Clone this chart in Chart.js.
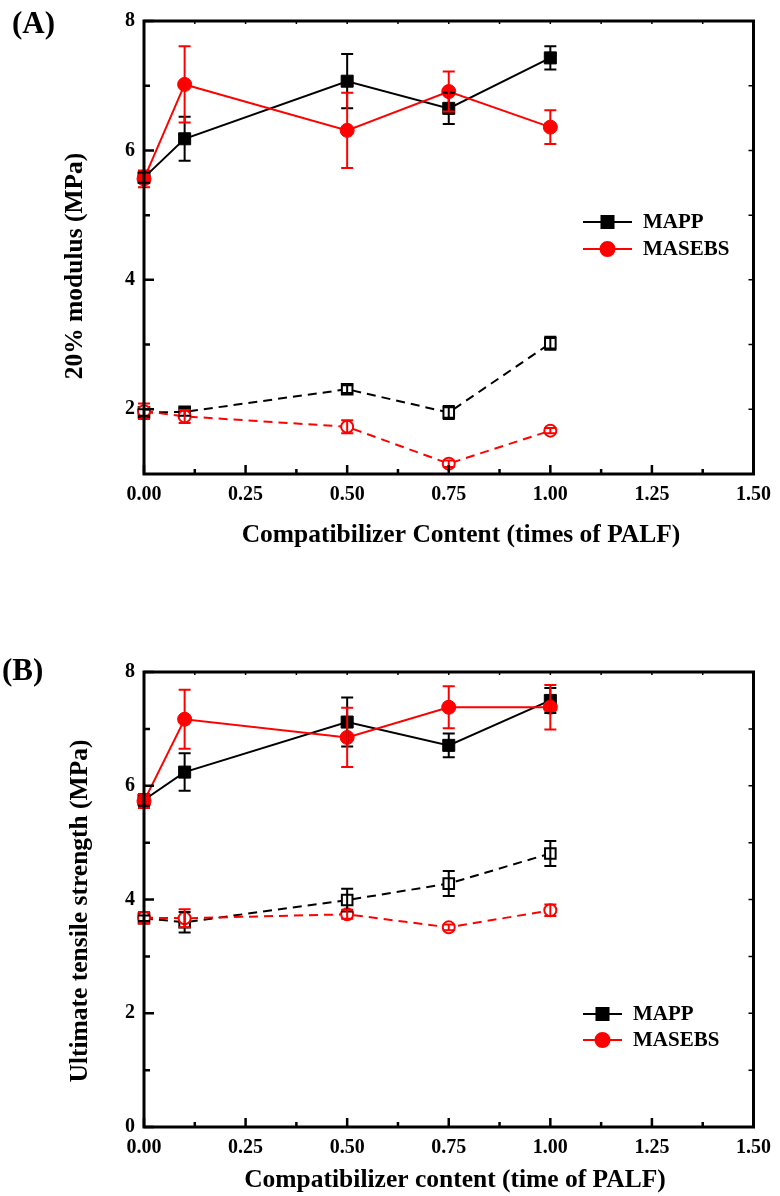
<!DOCTYPE html>
<html>
<head>
<meta charset="utf-8">
<script src="https://cdn.jsdelivr.net/npm/chart.js@4.4.1/dist/chart.umd.min.js"></script>
<style>
  html, body { margin: 0; padding: 0; background: #fff; }
  #wrap { position: relative; width: 780px; height: 1196px; }
  canvas { position: absolute; left: 0; }
  #cA { top: 0; width: 780px; height: 600px; }
  #cB { top: 600px; width: 780px; height: 596px; }
</style>
</head>
<body>
<div id="wrap">
  <canvas id="cA" width="780" height="600"></canvas>
  <canvas id="cB" width="780" height="596"></canvas>
</div>
<script>
// compatibilizer content (times of PALF)
const xVals = [0, 0.1, 0.5, 0.75, 1.0];
const xMajor = [0, 0.25, 0.5, 0.75, 1.0, 1.25, 1.5];
const xMinor = [0.125, 0.375, 0.625, 0.875, 1.125, 1.375];

// (A) 20% modulus, MPa
const modMAPP       = [5.58, 6.18, 7.07, 6.65, 7.43];
const modMAPPErr    = [0.08, 0.34, 0.42, 0.24, 0.18];
const modMASEBS     = [5.56, 7.02, 6.31, 6.91, 6.36];
const modMASEBSErr  = [0.13, 0.59, 0.58, 0.31, 0.26];
const modMAPP2      = [1.95, 1.96, 2.31, 1.95, 3.02];
const modMAPP2Err   = [0.05, 0.06, 0.06, 0.10, 0.10];
const modMASEBS2    = [1.97, 1.89, 1.73, 1.16, 1.67];
const modMASEBS2Err = [0.12, 0.10, 0.10, 0.05, 0.04];
const yMajorA = [2, 4, 6, 8];
const yMinorA = [3, 5, 7];
const yRightA = [2, 3, 4, 5, 6, 7];

// (B) ultimate tensile strength, MPa
const utsMAPP       = [5.75, 6.24, 7.12, 6.71, 7.50];
const utsMAPPErr    = [0.10, 0.33, 0.43, 0.21, 0.22];
const utsMASEBS     = [5.73, 7.17, 6.85, 7.38, 7.38];
const utsMASEBSErr  = [0.12, 0.52, 0.52, 0.37, 0.39];
const utsMAPP2      = [3.67, 3.60, 3.99, 4.28, 4.81];
const utsMAPP2Err   = [0.05, 0.18, 0.20, 0.22, 0.22];
const utsMASEBS2    = [3.68, 3.67, 3.74, 3.51, 3.81];
const utsMASEBS2Err = [0.10, 0.16, 0.08, 0.05, 0.10];
const yMajorB = [0, 2, 4, 6, 8];
const yMinorB = [1, 3, 5, 7];
const yRightB = [1, 2, 3, 4, 5, 6, 7];

const legendNames = ['MAPP', 'MASEBS'];

const FAM = '"Liberation Serif", "Times New Roman", serif';
Chart.defaults.font.family = FAM;
Chart.defaults.color = '#000';

const RED = '#ff0000', BLK = '#000000';

function pts(ys) { return xVals.map((x, i) => ({ x, y: ys[i] })); }

function series(ys, color, style, filled, dashed, order) {
  const open = !filled;
  return {
    data: pts(ys),
    showLine: true,
    borderColor: color,
    borderWidth: 2,
    borderDash: dashed ? [9, 6] : [],
    pointStyle: style,
    pointRadius: style === 'rect' ? (open ? 7.5 : 8.5) : (open ? 6 : 7),
    pointBackgroundColor: open ? '#fff' : color,
    pointBorderColor: color,
    pointBorderWidth: open ? 2 : 1,
    clip: false,
    order
  };
}

// error bars, frame, inward ticks, titles, legend, panel letter
const deco = {
  id: 'deco',
  afterDatasetsDraw(chart, args, o) {
    const { ctx, scales: { x, y } } = chart;
    ctx.save();
    ctx.lineWidth = 2;
    o.errors.forEach(s => {
      ctx.strokeStyle = s.color;
      s.v.forEach((v, i) => {
        const px = x.getPixelForValue(xVals[i]);
        const t = y.getPixelForValue(v + s.e[i]);
        const b = y.getPixelForValue(v - s.e[i]);
        ctx.beginPath();
        ctx.moveTo(px, t); ctx.lineTo(px, b);
        ctx.moveTo(px - 6, t); ctx.lineTo(px + 6, t);
        ctx.moveTo(px - 6, b); ctx.lineTo(px + 6, b);
        ctx.stroke();
      });
    });
    ctx.restore();
  },
  afterDraw(chart, args, o) {
    const { ctx, chartArea: a, scales: { x, y } } = chart;
    ctx.save();
    ctx.strokeStyle = '#000';
    ctx.lineWidth = 3;
    ctx.strokeRect(a.left, a.top, a.right - a.left, a.bottom - a.top);

    ctx.lineWidth = 2.5;
    ctx.beginPath();
    xMajor.forEach(v => { const p = x.getPixelForValue(v); ctx.moveTo(p, a.bottom); ctx.lineTo(p, a.bottom - 9); });
    xMinor.forEach(v => { const p = x.getPixelForValue(v); ctx.moveTo(p, a.bottom); ctx.lineTo(p, a.bottom - 5); });
    o.yMajor.forEach(v => { const p = y.getPixelForValue(v); ctx.moveTo(a.left, p); ctx.lineTo(a.left + 10, p); });
    o.yMinor.forEach(v => { const p = y.getPixelForValue(v); ctx.moveTo(a.left, p); ctx.lineTo(a.left + 6, p); });
    ctx.stroke();
    ctx.lineWidth = 1.5;
    ctx.beginPath();
    o.yRight.forEach(v => { const p = y.getPixelForValue(v); ctx.moveTo(a.right, p); ctx.lineTo(a.right - 5, p); });
    xMajor.concat(xMinor).forEach(v => { const p = x.getPixelForValue(v); ctx.moveTo(p, a.top); ctx.lineTo(p, a.top + 3); });
    ctx.stroke();

    ctx.fillStyle = '#000';
    ctx.font = 'bold 25.5px ' + FAM;
    ctx.textAlign = 'center';
    ctx.textBaseline = 'alphabetic';
    ctx.fillText(o.xTitle, o.xTitlePos[0], o.xTitlePos[1]);
    ctx.save();
    ctx.translate(o.yTitlePos[0], o.yTitlePos[1]);
    ctx.rotate(-Math.PI / 2);
    ctx.fillText(o.yTitle, 0, 0);
    ctx.restore();

    ctx.textAlign = 'left';
    ctx.font = 'bold 31px ' + FAM;
    ctx.fillText(o.panel, o.panelPos[0], o.panelPos[1]);

    // legend
    const [lx1, lx2, lt, ly0, dy] = o.legend;
    const styles = [['rect', 8.5, BLK], ['circle', 7, RED]];
    ctx.font = 'bold 21px ' + FAM;
    ctx.textBaseline = 'middle';
    legendNames.forEach((name, i) => {
      const ly = ly0 + i * dy;
      const [st, r, c] = styles[i];
      ctx.strokeStyle = c; ctx.fillStyle = c; ctx.lineWidth = 2;
      ctx.beginPath(); ctx.moveTo(lx1, ly); ctx.lineTo(lx2, ly); ctx.stroke();
      Chart.helpers.drawPoint(ctx, { pointStyle: st, radius: r, borderWidth: 1, rotation: 0 }, (lx1 + lx2) / 2, ly);
      ctx.fillStyle = '#000';
      ctx.fillText(name, lt, ly + 1);
    });
    ctx.restore();
  }
};

function makeChart(id, cfg) {
  return new Chart(document.getElementById(id), {
    type: 'scatter',
    data: { datasets: [
      series(cfg.s[0], BLK, 'rect', true, false, 1),
      series(cfg.s[1], RED, 'circle', true, false, 0),
      series(cfg.s[2], BLK, 'rect', false, true, 3),
      series(cfg.s[3], RED, 'circle', false, true, 2)
    ] },
    options: {
      responsive: false,
      animation: false,
      devicePixelRatio: 1,
      layout: { padding: { left: 0, right: 23, top: cfg.top, bottom: 0 } },
      plugins: {
        legend: { display: false },
        tooltip: { enabled: false },
        deco: cfg.deco
      },
      scales: {
        x: {
          type: 'linear', min: 0, max: 1.5,
          afterBuildTicks: s => { s.ticks = xMajor.map(v => ({ value: v })); },
          afterFit: s => { s.height = cfg.xh; },
          grid: { display: false, drawTicks: false },
          border: { display: false },
          ticks: { padding: 9, maxRotation: 0, autoSkip: false, color: '#000',
                   font: { size: 20, weight: 'bold' }, callback: v => Number(v).toFixed(2) }
        },
        y: {
          type: 'linear', min: cfg.ymin, max: 8,
          afterBuildTicks: s => { s.ticks = cfg.deco.yMajor.map(v => ({ value: v })); },
          afterFit: s => { s.width = 144; },
          grid: { display: false, drawTicks: false },
          border: { display: false },
          ticks: { padding: 9, color: '#000', font: { size: 20, weight: 'bold' } }
        }
      }
    },
    plugins: [deco]
  });
}

makeChart('cA', {
  top: 18, xh: 126, ymin: 1,
  s: [modMAPP, modMASEBS, modMAPP2, modMASEBS2],
  deco: {
    errors: [
      { v: modMAPP, e: modMAPPErr, color: BLK },
      { v: modMASEBS, e: modMASEBSErr, color: RED },
      { v: modMAPP2, e: modMAPP2Err, color: BLK },
      { v: modMASEBS2, e: modMASEBS2Err, color: RED }
    ],
    yMajor: yMajorA, yMinor: yMinorA, yRight: yRightA,
    xTitle: 'Compatibilizer Content (times of PALF)', xTitlePos: [461, 542],
    yTitle: '20% modulus (MPa)', yTitlePos: [82, 266],
    panel: '(A)', panelPos: [12, 33],
    legend: [583, 632, 643, 222, 27]
  }
});

makeChart('cB', {
  top: 72, xh: 69, ymin: 0,
  s: [utsMAPP, utsMASEBS, utsMAPP2, utsMASEBS2],
  deco: {
    errors: [
      { v: utsMAPP, e: utsMAPPErr, color: BLK },
      { v: utsMASEBS, e: utsMASEBSErr, color: RED },
      { v: utsMAPP2, e: utsMAPP2Err, color: BLK },
      { v: utsMASEBS2, e: utsMASEBS2Err, color: RED }
    ],
    yMajor: yMajorB, yMinor: yMinorB, yRight: yRightB,
    xTitle: 'Compatibilizer content (time of PALF)', xTitlePos: [455, 587],
    yTitle: 'Ultimate tensile strength (MPa)', yTitlePos: [87, 311],
    panel: '(B)', panelPos: [2, 80],
    legend: [583, 622, 633, 414, 26]
  }
});
</script>
</body>
</html>
